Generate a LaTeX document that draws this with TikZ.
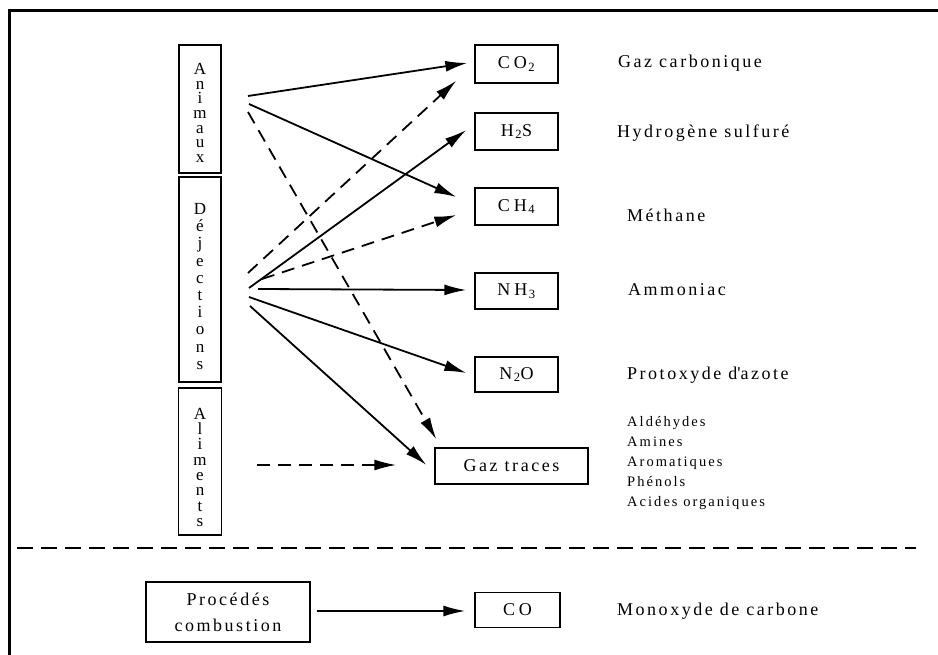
\documentclass[tikz,border=0pt]{standalone}
\usepackage{fontspec}
\setmainfont{Liberation Serif}[LetterSpace=14]
\usetikzlibrary{arrows.meta,calc}
\newcommand{\gsub}[1]{\kern1.5pt\textsubscript{#1}}
\begin{document}
\begin{tikzpicture}[x=1pt,y=-1pt,
  box/.style={draw,line width=1.3pt,inner sep=0pt,align=center},
  big/.style={font=\fontsize{18}{20}\selectfont},
  gas/.style={font=\fontsize{18}{20}\selectfont\addfontfeature{LetterSpace=22}},
  lbl/.style={anchor=west,inner sep=0pt,font=\fontsize{18}{20}\selectfont},
  con/.style={line width=1.8pt,-{Latex[length=22pt,width=11pt]}},
  dsh/.style={con,dash pattern=on 13pt off 8pt},
]
\useasboundingbox (0,0) rectangle (938,655);
% frame
\draw[line width=3pt] (9,655) -- (9,11) -- (938,11);
\draw[line width=1.6pt,dash pattern=on 16pt off 8pt] (17,548) -- (916,548);

% source boxes
\node[box,minimum width=42pt,minimum height=128pt,font=\fontsize{17}{14.7}\selectfont] (animaux) at (200,109) {\rule{0pt}{19pt}A\\n\\i\\m\\a\\u\\x};
\node[box,minimum width=42pt,minimum height=205pt,font=\fontsize{17}{17.2}\selectfont] (dejections) at (200,279.5) {\rule{0pt}{25pt}D\\é\\j\\e\\c\\t\\i\\o\\n\\s};
\node[box,minimum width=43pt,minimum height=147pt,font=\fontsize{17}{15.3}\selectfont] (aliments) at (200,461.5) {\rule{0pt}{23pt}A\\l\\i\\m\\e\\n\\t\\s};

% gas boxes
\node[box,gas,minimum width=83pt,minimum height=38pt] (co2) at (516.5,64) {CO\gsub{2}};
\node[box,gas,minimum width=83pt,minimum height=37pt] (h2s) at (516.5,131.5) {H\gsub{2}S};
\node[box,gas,minimum width=83pt,minimum height=37pt] (ch4) at (516.5,206.5) {CH\gsub{4}};
\node[box,gas,minimum width=83pt,minimum height=36pt] (nh3) at (516.5,291) {NH\gsub{3}};
\node[box,gas,minimum width=83pt,minimum height=35pt] (n2o) at (516.5,374.5) {N\gsub{2}O};
\node[box,big,minimum width=153pt,minimum height=36pt] (traces) at (511.5,466) {Gaz traces};
\node[box,minimum width=164pt,minimum height=60pt,font=\fontsize{18}{26}\selectfont] (proc) at (228,612) {Procédés\\combustion};
\node[box,gas,minimum width=85pt,minimum height=35pt] (co) at (517.5,610) {CO};

% labels
\node[lbl] (lco2) at (618,63) {Gaz carbonique};
\node[lbl] (lh2s) at (617,133) {Hydrogène sulfuré};
\node[lbl] (lch4) at (627,215) {Méthane};
\node[lbl] (lnh3) at (628,290) {Ammoniac};
\node[lbl] (ln2o) at (627,375) {Protoxyde d\textquotesingle azote};
\node[anchor=west,inner sep=0pt,align=left,font=\fontsize{14.5}{20}\selectfont] (ltr) at (627,463) {Aldéhydes\\Amines\\Aromatiques\\Phénols\\Acides organiques};
\node[lbl] (lco) at (617,611) {Monoxyde de carbone};

% start points
\coordinate (a1) at (248,96);
\coordinate (a2) at (249,104);
\coordinate (a3) at (248,112);
\coordinate (d1) at (248,273);
\coordinate (d2) at (262,279);
\coordinate (d3) at (249,288);
\coordinate (d4) at (258,289);
\coordinate (d5) at (249,297);
\coordinate (d6) at (250,306);
\coordinate (al) at (257,465);

% connectors
\draw[con] (a1) -- ($(co2.west)+(-7,-1)$);
\draw[con] (a2) -- ($(ch4.west)+(-18,-9.5)$);
\draw[dsh] (a3) -- ($(traces.north west)+(2,-8)$);
\draw[dsh] (d1) -- ($(co2.south west)+(-18,-3)$);
\draw[dsh] (d2) -- ($(ch4.west)+(-18,8.5)$);
\draw[con] (d3) -- ($(h2s.west)+(-8,-1.5)$);
\draw[con] (d4) -- ($(nh3.west)+(-8,-1)$);
\draw[con] (d5) -- ($(n2o.west)+(-8,-1.5)$);
\draw[con] (d6) -- ($(traces.west)+(-8,-1)$);
\draw[dsh] (al) -- ($(traces.west)+(-38,-1)$);
\draw[con] ($(proc.east)+(6,-1)$) -- ($(co.west)+(-9,1)$);
\end{tikzpicture}
\end{document}
